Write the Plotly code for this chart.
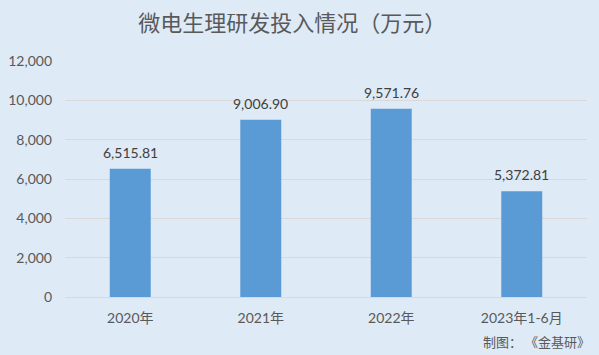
import plotly.graph_objects as go

categories = ["2020年", "2021年", "2022年", "2023年1-6月"]
values = [6515.81, 9006.90, 9571.76, 5372.81]
value_labels = ["6,515.81", "9,006.90", "9,571.76", "5,372.81"]
tick_vals = [0, 2000, 4000, 6000, 8000, 10000, 12000]
tick_text = ["0", "2,000", "4,000", "6,000", "8,000", "10,000", "12,000"]

bg = "#DEEAF6"
font = "Lato, Noto Sans CJK SC"
cjk = "Noto Sans CJK SC"

fig = go.Figure(go.Bar(
    x=categories, y=values,
    marker=dict(color="#5B9BD5", line=dict(width=0)), width=0.314,
))
annotations = [dict(x=c, y=v, text=t, xref="x", yref="y", yanchor="bottom", yshift=6,
                    showarrow=False, font=dict(size=14, color="#404040", family=font))
               for c, v, t in zip(categories, values, value_labels)]
annotations.append(dict(text="制图： 《金基研》", xref="paper", yref="paper", x=1.0, xanchor="right",
                        y=-0.19, yanchor="middle", showarrow=False, xshift=5,
                        font=dict(size=13, color="#595959", family=cjk)))
fig.update_layout(
    width=599, height=355, paper_bgcolor=bg, plot_bgcolor=bg,
    margin=dict(l=65, r=12, t=61, b=58, autoexpand=False),
    title=dict(text="微电生理研发投入情况（万元）", x=0.488, xanchor="center", y=0.935, yanchor="middle",
               font=dict(size=22, color="#595959", family=cjk)),
    showlegend=False,
    font=dict(family=font, color="#595959", size=13),
    annotations=annotations,
)
fig.update_xaxes(showline=True, linecolor="#D9D9D9", linewidth=1, ticks="", showgrid=False,
                 ticklabelstandoff=8, automargin=False,
                 tickfont=dict(size=14, color="#595959", family=font))
fig.update_yaxes(range=[0, 12000], tickvals=tick_vals, ticktext=tick_text, showgrid=True,
                 gridcolor="#D9D9D9", gridwidth=1, zeroline=False, ticks="", ticklen=0,
                 ticklabelstandoff=12, automargin=False,
                 tickfont=dict(size=14, color="#595959", family=font))
fig.write_html("out.html")
